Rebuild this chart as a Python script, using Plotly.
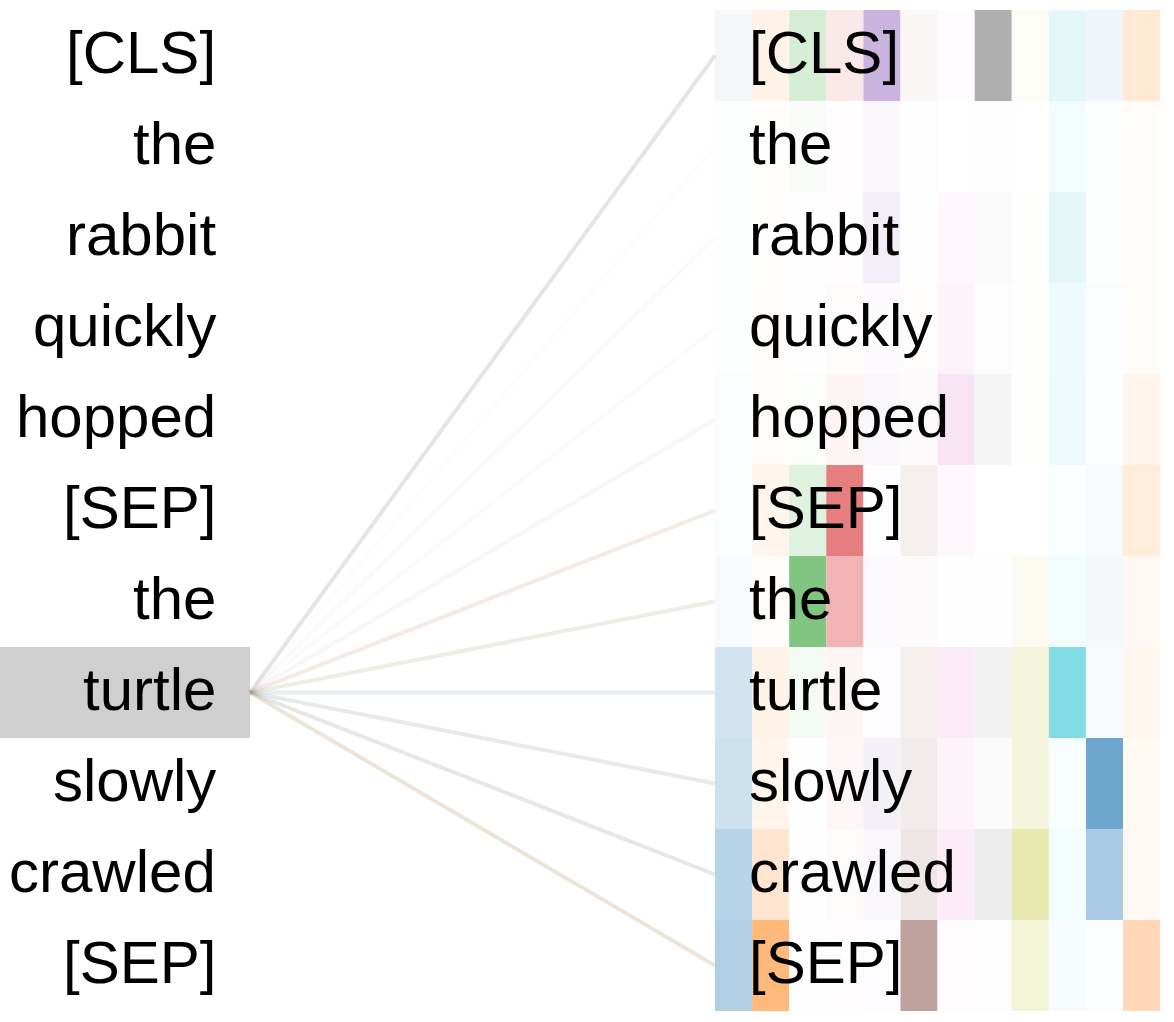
import plotly.graph_objects as go

# ---------------- data ----------------
tokens = ["[CLS]", "the", "rabbit", "quickly", "hopped", "[SEP]",
          "the", "turtle", "slowly", "crawled", "[SEP]"]
selected_index = 7  # "turtle"

head_colors = ["#1f77b4", "#ff7f0e", "#2ca02c", "#d62728", "#9467bd", "#8c564b",
               "#e377c2", "#7f7f7f", "#bcbd22", "#17becf", "#1f77b4", "#ff7f0e"]

# attention from "turtle" to each token (rows) for each of 12 heads (columns)
attention = [
    [0.05, 0.10, 0.20, 0.10, 0.50, 0.05, 0.02, 0.62, 0.03, 0.12, 0.07, 0.18],  # [CLS]
    [0.01, 0.01, 0.03, 0.01, 0.05, 0.01, 0.00, 0.01, 0.00, 0.05, 0.01, 0.02],  # the
    [0.01, 0.01, 0.01, 0.01, 0.12, 0.01, 0.05, 0.05, 0.01, 0.12, 0.01, 0.02],  # rabbit
    [0.01, 0.02, 0.01, 0.02, 0.03, 0.02, 0.08, 0.02, 0.01, 0.07, 0.02, 0.03],  # quickly
    [0.02, 0.03, 0.02, 0.05, 0.05, 0.03, 0.20, 0.08, 0.01, 0.08, 0.02, 0.08],  # hopped
    [0.02, 0.08, 0.15, 0.60, 0.02, 0.10, 0.05, 0.00, 0.00, 0.02, 0.04, 0.15],  # [SEP]
    [0.04, 0.02, 0.60, 0.35, 0.04, 0.03, 0.01, 0.01, 0.07, 0.05, 0.05, 0.06],  # the
    [0.20, 0.10, 0.05, 0.05, 0.02, 0.10, 0.15, 0.10, 0.15, 0.54, 0.03, 0.07],  # turtle
    [0.22, 0.08, 0.01, 0.04, 0.10, 0.12, 0.08, 0.03, 0.15, 0.03, 0.65, 0.05],  # slowly
    [0.32, 0.20, 0.01, 0.02, 0.05, 0.15, 0.15, 0.15, 0.35, 0.05, 0.38, 0.06],  # crawled
    [0.35, 0.55, 0.01, 0.01, 0.02, 0.55, 0.03, 0.02, 0.18, 0.04, 0.02, 0.30],  # [SEP]
]

# ---------------- layout geometry (screen pixels) ----------------
W, H = 1174, 1022
top = 10.0
row_h = 91.0
grid_x0 = 715.0
col_w = 37.1
left_text_x = 218
right_text_x = 747
line_x0 = 250
line_x1 = 715
font_family = "Liberation Sans, Arial, Helvetica, sans-serif"
font_size = 60
text_yshift = 3

n = len(tokens)
row_edges = [top + row_h * i for i in range(n + 1)]
row_centers = [top + row_h * (i + 0.5) for i in range(n)]


def hex_to_rgb(h):
    h = h.lstrip("#")
    return tuple(int(h[i:i + 2], 16) for i in (0, 2, 4))


fig = go.Figure()

# attention lines from selected token to each token (blended head colors)
for j in range(n):
    ws = attention[j]
    total = sum(ws)
    if total <= 0:
        continue
    r = g = b = 0.0
    for w, c in zip(ws, head_colors):
        cr, cg, cb = hex_to_rgb(c)
        r += w * cr
        g += w * cg
        b += w * cb
    r, g, b = r / total, g / total, b / total
    alpha = min(1.0, 0.10 * total)
    fig.add_trace(go.Scatter(
        x=[line_x0, line_x1],
        y=[row_centers[selected_index], row_centers[j]],
        mode="lines",
        line=dict(color=f"rgba({r:.0f},{g:.0f},{b:.0f},{alpha:.3f})", width=4),
        hoverinfo="skip", showlegend=False,
    ))

# heat cells: one heatmap per head
for h, color in enumerate(head_colors):
    x0 = grid_x0 + col_w * h
    fig.add_trace(go.Heatmap(
        x=[x0, x0 + col_w],
        y=row_edges,
        z=[[attention[i][h]] for i in range(n)],
        zmin=0, zmax=1,
        colorscale=[[0, "rgb(255,255,255)"], [1, color]],
        showscale=False, hoverinfo="skip",
    ))

# highlight box for selected token
fig.add_shape(type="rect", x0=0, x1=250,
              y0=row_edges[selected_index], y1=row_edges[selected_index + 1],
              fillcolor="#cfcfcf", line=dict(width=0), layer="below")

# token labels
for i, tok in enumerate(tokens):
    fig.add_annotation(x=left_text_x, y=row_centers[i], text=tok, showarrow=False,
                       xanchor="right", yanchor="middle", yshift=text_yshift,
                       font=dict(family=font_family, size=font_size, color="#000"))
    fig.add_annotation(x=right_text_x, y=row_centers[i], text=tok, showarrow=False,
                       xanchor="left", yanchor="middle", yshift=text_yshift,
                       font=dict(family=font_family, size=font_size, color="#000"))

fig.update_layout(
    width=W, height=H,
    margin=dict(l=0, r=0, t=0, b=0),
    paper_bgcolor="white", plot_bgcolor="white",
    xaxis=dict(range=[0, W], visible=False, fixedrange=True),
    yaxis=dict(range=[H, 0], visible=False, fixedrange=True),
    showlegend=False,
)

fig.write_html("out.html",
               config={"displayModeBar": False, "staticPlot": True},
               post_script="document.body.style.margin='0';document.body.style.overflow='hidden';")
